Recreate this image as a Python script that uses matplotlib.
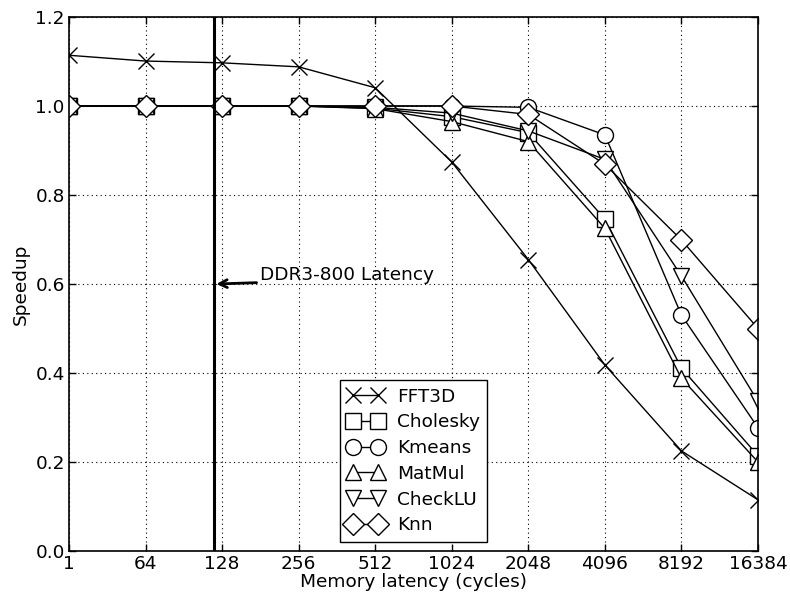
import matplotlib
matplotlib.use("Agg")
import matplotlib.pyplot as plt

# Memory latency sweep (cycles) and per-benchmark speedup
latencies = ["1", "64", "128", "256", "512", "1024", "2048", "4096", "8192", "16384"]

fft3d    = [1.114, 1.101, 1.097, 1.088, 1.041, 0.874, 0.655, 0.418, 0.225, 0.115]
cholesky = [1.000, 1.000, 1.000, 1.000, 0.995, 0.976, 0.940, 0.746, 0.411, 0.214]
kmeans   = [1.000, 1.000, 1.000, 1.000, 1.000, 1.000, 0.997, 0.935, 0.530, 0.277]
matmul   = [1.000, 1.000, 1.000, 1.000, 0.994, 0.965, 0.920, 0.725, 0.388, 0.200]
checklu  = [1.000, 1.000, 1.000, 1.000, 0.997, 0.984, 0.944, 0.880, 0.618, 0.336]
knn      = [1.000, 1.000, 1.000, 1.000, 1.000, 1.000, 0.981, 0.869, 0.699, 0.500]

series = [
    ("FFT3D", fft3d, "x"),
    ("Cholesky", cholesky, "s"),
    ("Kmeans", kmeans, "o"),
    ("MatMul", matmul, "^"),
    ("CheckLU", checklu, "v"),
    ("Knn", knn, "D"),
]

# DDR3-800 latency expressed on the categorical latency axis
ddr3_pos = 1.895
ddr3_label = "DDR3-800 Latency"

FS = 13.3
plt.rcParams["font.family"] = ["DejaVu Sans"]
plt.rcParams["font.size"] = FS

fig = plt.figure(figsize=(7.9, 5.99), dpi=100)
ax = fig.add_axes([69 / 790, 48 / 599, 689 / 790, 534 / 599])

x = list(range(len(latencies)))
for name, vals, mk in series:
    ax.plot(x, vals, color="black", lw=1.0, marker=mk, markersize=11.5,
            markerfacecolor="white", markeredgecolor="black",
            markeredgewidth=1.0, label=name)

ax.axvline(ddr3_pos, color="black", lw=2.2)
ax.annotate("", xy=(ddr3_pos + 0.03, 0.6), xytext=(2.45, 0.603),
            arrowprops=dict(arrowstyle="->", lw=2, color="black",
                            shrinkA=0, shrinkB=0, mutation_scale=14))
ax.text(2.5, 0.608, ddr3_label, fontsize=FS, ha="left", va="baseline")

ax.set_xlim(0, len(latencies) - 1)
ax.set_ylim(0, 1.2)
ax.set_xticks(x)
ax.set_xticklabels(latencies)
ax.set_yticks([0.0, 0.2, 0.4, 0.6, 0.8, 1.0, 1.2])
ax.set_yticklabels(["0.0", "0.2", "0.4", "0.6", "0.8", "1.0", "1.2"])
ax.tick_params(direction="in", top=True, right=True, length=5, width=1,
               labelsize=FS, pad=3)
ax.grid(True, color="black", linestyle=(0, (1, 3)), lw=0.8)
for sp in ax.spines.values():
    sp.set_linewidth(1.2)

ax.set_xlabel("Memory latency (cycles)", fontsize=FS, labelpad=0)
ax.set_ylabel("Speedup", fontsize=FS, labelpad=4)

leg = ax.legend(loc="lower center", numpoints=2, handlelength=2.0,
                handletextpad=0.7, labelspacing=0.42,
                fancybox=False, framealpha=1, edgecolor="black",
                fontsize=FS, borderaxespad=0.5)
leg.get_frame().set_linewidth(1.0)

fig.savefig("out.png", dpi=100)
